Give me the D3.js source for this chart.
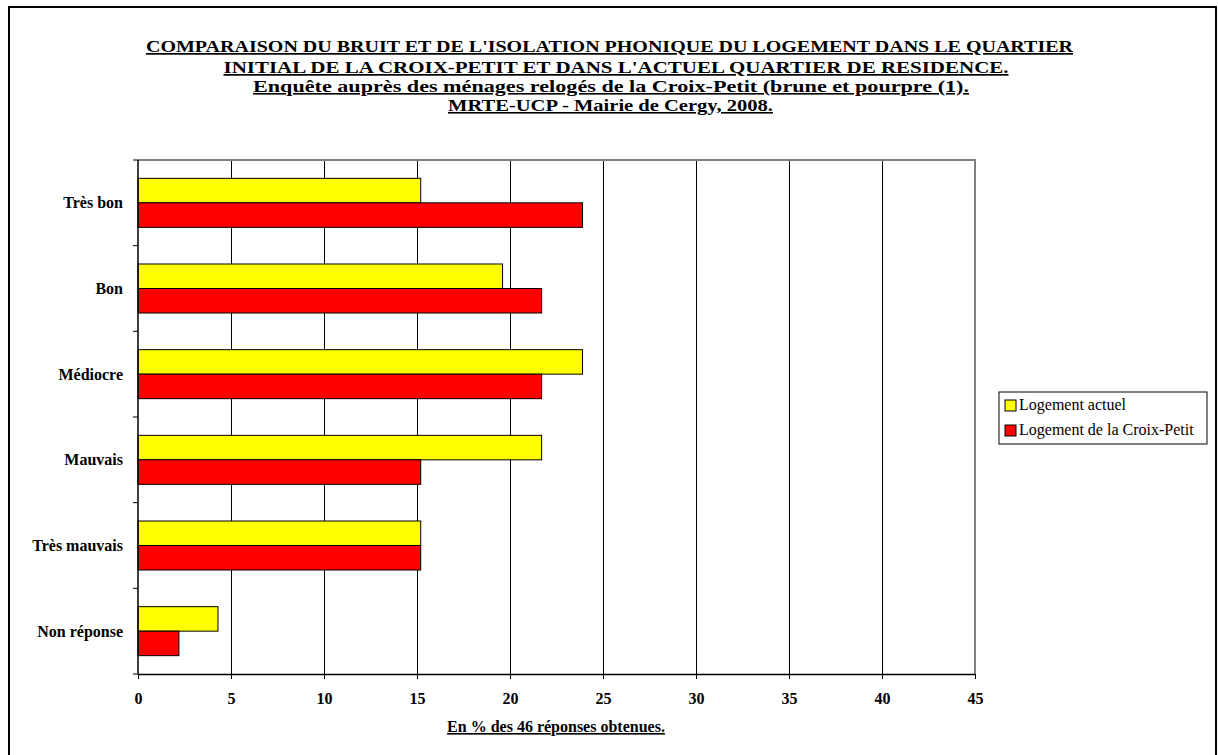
<!DOCTYPE html>
<html><head><meta charset="utf-8">
<script src="https://cdn.jsdelivr.net/npm/d3@7"></script>
<style>body{margin:0;background:#fff}svg{display:block;font-family:"Liberation Serif","Times New Roman",serif}text{font-family:"Liberation Serif","Times New Roman",serif}</style>
</head><body>
<svg id="c" width="1218" height="755"></svg>
<script>
const categories = ["Très bon","Bon","Médiocre","Mauvais","Très mauvais","Non réponse"];
const seriesNames = ["Logement actuel","Logement de la Croix-Petit"];
const actuel = [15.2,19.6,23.9,21.7,15.2,4.3];
const croixPetit = [23.9,21.7,21.7,15.2,15.2,2.2];
const colors = ["#ffff00","#ff0000"];
const xTicks = [0,5,10,15,20,25,30,35,40,45];
const titleLines = ["COMPARAISON DU BRUIT ET DE L'ISOLATION PHONIQUE DU LOGEMENT DANS LE QUARTIER",
  "INITIAL DE LA CROIX-PETIT ET DANS L'ACTUEL QUARTIER DE RESIDENCE.",
  "Enquête auprès des ménages relogés de la Croix-Petit (brune et pourpre (1).",
  "MRTE-UCP - Mairie de Cergy, 2008."];
const xTitle = "En % des 46 réponses obtenues.";

const svg = d3.select("#c");
svg.append("rect").attr("x",9).attr("y",7).attr("width",1207).attr("height",760)
  .attr("fill","none").attr("stroke","#000").attr("stroke-width",2);

const L=138,R=975,T=160,B=674;
const x = d3.scaleLinear().domain([0,45]).range([L,R]);
const y = d3.scaleBand().domain(categories).range([T,B]).paddingInner(0.428).paddingOuter(0.214);
const ys = d3.scaleBand().domain([0,1]).range([0,y.bandwidth()]);

// gridlines
svg.append("g").selectAll("line").data(xTicks.filter(d=>d>0&&d<45)).join("line")
  .attr("x1",d=>x(d)).attr("x2",d=>x(d)).attr("y1",T).attr("y2",B)
  .attr("stroke","#000").attr("stroke-width",1).attr("shape-rendering","crispEdges");
// top and right border
svg.append("path").attr("d",`M${L},${T}H${R}V${B}`).attr("fill","none")
  .attr("stroke","#808080").attr("stroke-width",1.5).attr("shape-rendering","crispEdges");

// bars
const data = categories.map((c,i)=>({c,v:[actuel[i],croixPetit[i]]}));
const g = svg.append("g").selectAll("g").data(data).join("g")
  .attr("transform",d=>`translate(0,${y(d.c)})`);
g.selectAll("rect").data(d=>d.v.map((v,k)=>({v,k}))).join("rect")
  .attr("x",x(0)).attr("y",d=>ys(d.k)).attr("width",d=>x(d.v)-x(0)).attr("height",ys.bandwidth())
  .attr("fill",d=>colors[d.k]).attr("stroke","#000").attr("stroke-width",1);

// x axis
const xa = svg.append("g").attr("transform",`translate(0,${B})`)
  .call(d3.axisBottom(x).tickValues(xTicks).tickSize(5).tickPadding(0))
  .attr("font-family",null).attr("font-size",null);
xa.select(".domain").attr("stroke","#000").attr("stroke-width",1.5).attr("d",`M${L},0.5H${R}`);
xa.selectAll(".tick line").attr("stroke","#000");
xa.selectAll("text").attr("y",30).attr("dy",null).attr("font-size",16).attr("font-weight","bold").attr("fill","#000");

// y axis line + ticks between categories
svg.append("line").attr("x1",L).attr("x2",L).attr("y1",T).attr("y2",B).attr("stroke","#000").attr("stroke-width",1.5);
const step = y.step();
svg.append("g").selectAll("line").data(d3.range(categories.length+1)).join("line")
  .attr("x1",L-5).attr("x2",L).attr("y1",i=>T+i*step).attr("y2",i=>T+i*step)
  .attr("stroke","#000").attr("stroke-width",1);
svg.append("g").selectAll("text").data(categories).join("text")
  .attr("x",123).attr("y",d=>y(d)+y.bandwidth()/2).attr("dy","0.35em")
  .attr("text-anchor","end").attr("font-size",16).attr("font-weight","bold").text(d=>d);

// title
const ty=[52,73,92,111], tl=[927,785,716,325], ts=[17,17,16,16];
svg.append("g").selectAll("text").data(titleLines).join("text")
  .attr("x",(d,i)=>[609.5,616,611,610.5][i]).attr("y",(d,i)=>ty[i]).attr("text-anchor","middle")
  .attr("font-size",(d,i)=>ts[i]).attr("font-weight","bold")
  .attr("textLength",(d,i)=>tl[i]).attr("lengthAdjust","spacingAndGlyphs")
  .style("text-decoration","underline").text(d=>d);

svg.append("text").attr("x",556).attr("y",732).attr("text-anchor","middle")
  .attr("font-size",16).attr("font-weight","bold").style("text-decoration","underline").text(xTitle);

// legend
const lg = svg.append("g");
lg.append("rect").attr("x",999).attr("y",392).attr("width",208).attr("height",52)
  .attr("fill","#fff").attr("stroke","#000").attr("stroke-width",1);
seriesNames.forEach((s,i)=>{
  lg.append("rect").attr("x",1005).attr("y",400+i*25).attr("width",11).attr("height",11)
    .attr("fill",colors[i]).attr("stroke","#000");
  lg.append("text").attr("x",1019).attr("y",410+i*25).attr("font-size",16).text(s);
});
</script>
</body></html>
